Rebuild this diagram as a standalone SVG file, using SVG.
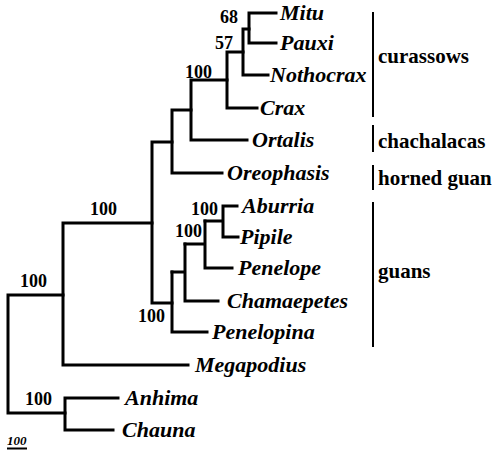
<svg xmlns="http://www.w3.org/2000/svg" width="493" height="453" viewBox="0 0 493 453">
<style>
.br{fill:none;stroke:#000;stroke-width:3;stroke-linecap:square;stroke-linejoin:miter}
.bk{fill:none;stroke:#000;stroke-width:2}
.tx{font-family:"Liberation Serif","Times New Roman",serif;font-weight:bold;font-style:italic;font-size:22px;fill:#000}
.bs{font-family:"Liberation Serif","Times New Roman",serif;font-weight:bold;font-size:18px;fill:#000;text-anchor:end}
.cl{font-family:"Liberation Serif","Times New Roman",serif;font-weight:bold;font-size:21px;fill:#000}
.sc{font-family:"Liberation Serif","Times New Roman",serif;font-weight:bold;font-style:italic;font-size:13px;fill:#000}
</style>
<rect width="493" height="453" fill="#fff"/>
<g id="connectors">
<path class="br" d="M249,13 H276 M249,13 V43 H276"/>
<path class="br" d="M243,29 H249 M243,29 V75 H268"/>
<path class="br" d="M227,52 H243 M227,52 V108 H257"/>
<path class="br" d="M191,80 H227 M191,80 V140 H247"/>
<path class="br" d="M172,110 H191 M172,110 V173 H222"/>
<path class="br" d="M152,142 H172 M152,142 V303 H172"/>
<path class="br" d="M223,206 H237 M223,206 V237 H238 M205,221 H223"/>
<path class="br" d="M205,221 V268 H232 M185,244 H205"/>
<path class="br" d="M185,244 V301 H218 M172,272 H185"/>
<path class="br" d="M172,272 V332 H207"/>
<path class="br" d="M63,223 H152 M63,223 V365 H188"/>
<path class="br" d="M8,295 H63 M8,295 V413 H65"/>
<path class="br" d="M65,398 H118 M65,398 V430 H113"/>
</g>
<g id="taxa">
<g id="Mitu"><text class="tx" x="280" y="20">Mitu</text></g>
<g id="Pauxi"><text class="tx" x="280" y="50">Pauxi</text></g>
<g id="Nothocrax"><text class="tx" x="270" y="82">Nothocrax</text></g>
<g id="Crax"><text class="tx" x="260" y="115">Crax</text></g>
<g id="Ortalis"><text class="tx" x="252" y="147">Ortalis</text></g>
<g id="Oreophasis"><text class="tx" x="227" y="180">Oreophasis</text></g>
<g id="Aburria"><text class="tx" x="242" y="213">Aburria</text></g>
<g id="Pipile"><text class="tx" x="240" y="244">Pipile</text></g>
<g id="Penelope"><text class="tx" x="238" y="275">Penelope</text></g>
<g id="Chamaepetes"><text class="tx" x="227" y="308">Chamaepetes</text></g>
<g id="Penelopina"><text class="tx" x="212" y="339">Penelopina</text></g>
<g id="Megapodius"><text class="tx" x="195" y="372">Megapodius</text></g>
<g id="Anhima"><text class="tx" x="125" y="405">Anhima</text></g>
<g id="Chauna"><text class="tx" x="122" y="437">Chauna</text></g>
</g>
<g id="support">
<text class="bs" x="238" y="23">68</text>
<text class="bs" x="233" y="49">57</text>
<text class="bs" x="212" y="78">100</text>
<text class="bs" x="218" y="215">100</text>
<text class="bs" x="202" y="237">100</text>
<text class="bs" x="165" y="322">100</text>
<text class="bs" x="117" y="215">100</text>
<text class="bs" x="47" y="287">100</text>
<text class="bs" x="52" y="405">100</text>
</g>
<g id="clades">
<g id="curassows"><line class="bk" x1="373" y1="12" x2="373" y2="117"/><text class="cl" x="378" y="63">curassows</text></g>
<g id="chachalacas"><line class="bk" x1="373" y1="125" x2="373" y2="152"/><text class="cl" x="378" y="148">chachalacas</text></g>
<g id="horned-guan"><line class="bk" x1="373" y1="165" x2="373" y2="190"/><text class="cl" x="378" y="185">horned guan</text></g>
<g id="guans"><line class="bk" x1="373" y1="202" x2="373" y2="347"/><text class="cl" x="378" y="278">guans</text></g>
</g>
<g id="scale">
<text class="sc" x="7" y="445">100</text>
<line x1="7" y1="448.5" x2="27" y2="448.5" stroke="#000" stroke-width="2"/>
</g>
</svg>
